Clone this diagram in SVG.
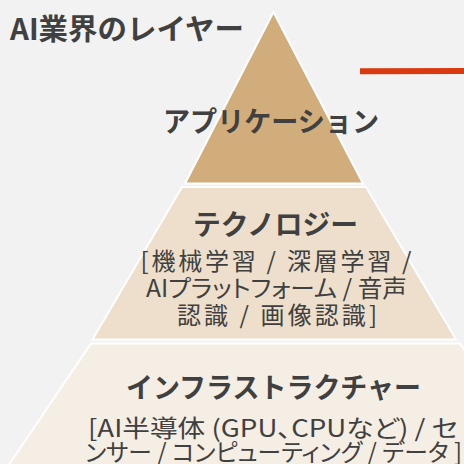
<svg xmlns="http://www.w3.org/2000/svg" width="464" height="464" viewBox="0 0 464 464">
  <style>
    .layer { stroke: #FFFFFF; stroke-width: 2; stroke-linejoin: miter; }
    .head { font-family: "Noto Sans CJK JP", "Noto Sans", sans-serif; font-weight: bold; fill: #404040; text-anchor: middle; dominant-baseline: central; }
    .body { font-family: "Noto Sans CJK JP", "Noto Sans", sans-serif; font-weight: normal; font-size: 24px; fill: #404040; text-anchor: middle; dominant-baseline: central; font-feature-settings: "palt" 1; }
  </style>
  <rect x="0" y="0" width="464" height="464" fill="#F2F2F2"/>

  <text id="title" x="10" y="27" font-family="'Noto Sans CJK JP', 'Noto Sans', sans-serif" font-weight="bold" font-size="29" fill="#404040" dominant-baseline="central" textLength="234" lengthAdjust="spacingAndGlyphs">AI業界のレイヤー</text>

  <g id="layer-application">
    <polygon class="layer" fill="#D1AD7C" points="273.5,12 185,183.5 363,183.5"/>
    <text class="head" x="271" y="120" font-size="28" textLength="216" lengthAdjust="spacingAndGlyphs">アプリケーション</text>
  </g>

  <g id="layer-technology">
    <polygon class="layer" fill="#EDDFCB" points="182,187 366,187 456,339.5 92.5,339.5"/>
    <text class="head" x="275.5" y="222.5" font-size="28" textLength="165" lengthAdjust="spacingAndGlyphs">テクノロジー</text>
    <text class="body" x="276" y="259" textLength="271" lengthAdjust="spacing">[機械学習 / 深層学習 /</text>
    <text class="body" x="276.5" y="286" textLength="261" lengthAdjust="spacingAndGlyphs">AIプラットフォーム / 音声</text>
    <text class="body" x="277" y="313" textLength="200" lengthAdjust="spacing">認識 / 画像認識]</text>
  </g>

  <g id="layer-infrastructure">
    <polygon class="layer" fill="#F5EEE4" points="91,343.5 460,343.5 542,466 8,466"/>
    <text class="head" x="273.5" y="386" font-size="28" textLength="295" lengthAdjust="spacingAndGlyphs">インフラストラクチャー</text>
    <text class="body" x="273" y="426" textLength="370" lengthAdjust="spacingAndGlyphs">[AI半導体 (GPU、CPUなど) / セ</text>
    <text class="body" x="273.5" y="450" textLength="377" lengthAdjust="spacingAndGlyphs">ンサー / コンピューティング / データ ]</text>
  </g>

  <g id="connectors">
    <line x1="360" y1="71.3" x2="464" y2="71" stroke="#DA3A10" stroke-width="6"/>
  </g>
</svg>
